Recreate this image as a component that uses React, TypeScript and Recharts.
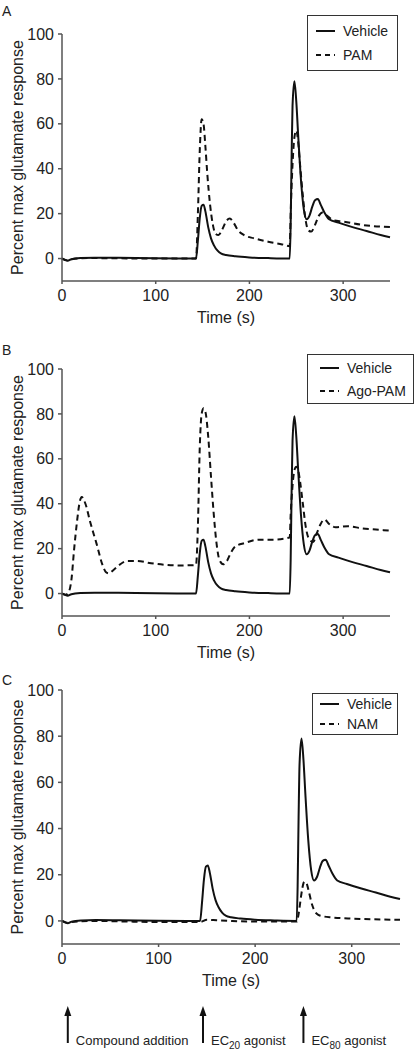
import {
  LineChart, Line, XAxis, YAxis, Legend, ReferenceDot
} from 'recharts';

const FONT = '"Liberation Sans", Arial, Helvetica, sans-serif';
const INK = '#111';
const AXIS = '#555';

// traces: time (s) -> percent max glutamate response
const vehicleTime = [0, 3, 6, 10, 20, 35, 60, 100, 130, 143, 145, 147, 149, 151, 153, 156, 159, 162, 166, 170, 175, 185, 200, 220, 243, 244, 245, 246, 248, 250, 252, 255, 258, 261, 264, 267, 270, 273, 276, 280, 285, 295, 310, 325, 340, 350];
const vehicleValue = [0, -0.5, -1, -0.3, 0.2, 0.4, 0.3, 0.1, 0, 0, 8, 18, 23.5, 24, 21, 14, 9, 6, 3.5, 2.2, 1.6, 1, 0.5, 0.2, 0, 15, 45, 68, 79, 70, 55, 35, 22, 17.5, 19, 23, 26, 26.5, 24, 20.5, 17.5, 16, 14, 12.3, 10.5, 9.5];

const pamTime = [0, 5, 10, 30, 60, 100, 143, 145, 147, 149, 151, 153, 155, 158, 161, 164, 167, 171, 175, 179, 183, 188, 194, 205, 220, 235, 243, 244, 246, 248, 250, 252, 254, 257, 260, 263, 266, 270, 274, 278, 283, 290, 300, 320, 350];
const pamValue = [0, -0.8, -0.3, 0.2, 0.1, 0, 0, 20, 48, 62, 60, 50, 38, 24, 15, 11, 10.5, 13, 16.5, 17.8, 16, 12.5, 10.5, 9, 7.5, 6.3, 5.5, 20, 42, 54, 57, 52, 42, 28, 17, 12.5, 12, 15, 19, 20.5, 19, 17, 16.5, 15, 14];

const agoTime = [0, 4, 7, 10, 13, 16, 19, 21, 25, 30, 37, 43, 47, 50, 55, 62, 70, 80, 95, 110, 125, 143, 145, 147, 149, 151, 153, 156, 159, 162, 165, 168, 172, 176, 180, 185, 195, 210, 225, 243, 244, 246, 248, 250, 252, 254, 257, 260, 264, 268, 272, 276, 280, 285, 292, 305, 320, 335, 350];
const agoValue = [0, -0.5, 0.5, 6, 20, 32, 41, 43, 40, 32, 22, 13, 9.5, 9, 10.5, 13, 14.5, 14.5, 13.5, 12.8, 12.5, 12.7, 30, 65, 80, 82.5, 81, 70, 52, 35, 22, 15, 13, 14.5, 18, 21, 22.5, 24, 24, 25, 35, 48, 55, 56.5, 55, 50, 40, 30, 24, 23, 27, 31, 33, 31, 29.5, 30, 29, 28.5, 28];

const namTime = [0, 5, 10, 30, 60, 100, 143, 150, 160, 175, 200, 243, 245, 247, 249, 251, 253, 256, 259, 262, 266, 270, 280, 300, 350];
const namValue = [0, -0.8, -0.5, 0, -0.2, -0.5, -0.5, 0.5, 0.3, 0, -0.3, -0.3, 3, 9, 14.5, 17, 16.5, 12, 7, 4, 2.5, 2, 1.5, 1, 0.5];

const xTicks = [0, 100, 200, 300];
const yTicks = [0, 20, 40, 60, 80, 100];

const arrowTimes = [6, 146, 250];
const arrowLabels = ['Compound addition', 'EC20 agonist', 'EC80 agonist'];

const toPoints = (t: number[], v: number[]) => t.map((x, i) => ({ t: x, v: v[i] }));

interface Series {
  name: string;
  time: number[];
  value: number[];
  dashed?: boolean;
}

interface LegendBox {
  left: number;
  top: number;
  width: number;
  height: number;
  rowGap: number;
  padLeft: number;
}

interface PanelProps {
  letter: string;
  letterTop: number;
  top: number;
  height: number;
  margin: { top: number; right: number; bottom: number; left: number };
  series: Series[];
  legend: LegendBox;
  arrows?: boolean;
}

const renderLegend = (series: Series[], box: LegendBox) => () => (
  <div
    style={{
      width: box.width, height: box.height, boxSizing: 'border-box',
      border: '1px solid #333', background: '#fff', paddingLeft: box.padLeft,
      display: 'flex', flexDirection: 'column', justifyContent: 'center', gap: box.rowGap,
      fontFamily: FONT,
    }}
  >
    {series.map((s) => (
      <div key={s.name} style={{ display: 'flex', alignItems: 'center', gap: 8, fontSize: 14, lineHeight: '16px', color: '#222' }}>
        <svg width={19} height={4} style={{ display: 'block' }}>
          <line x1={0} y1={2} x2={19} y2={2} stroke={INK} strokeWidth={2} strokeDasharray={s.dashed ? '5 4' : undefined} />
        </svg>
        <span>{s.name}</span>
      </div>
    ))}
  </div>
);

const xLabel = (props: any) => {
  const { viewBox } = props;
  return (
    <text x={viewBox.x + viewBox.width / 2} y={viewBox.y + 42} textAnchor="middle" fontSize={16} fill="#222" fontFamily={FONT}>
      Time (s)
    </text>
  );
};

const yLabel = (props: any) => {
  const { viewBox } = props;
  const cy = viewBox.y + viewBox.height / 2;
  return (
    <text x={17} y={cy} transform={`rotate(-90 17 ${cy})`} textAnchor="middle" dominantBaseline="central" fontSize={16} fill="#222" fontFamily={FONT}>
      Percent max glutamate response
    </text>
  );
};

const ArrowMark = ({ cx, cy, label }: { cx: number; cy: number; label: string }) => {
  const m = label.match(/^(EC)(\d+)(.*)$/);
  const top = cy + 62;
  const bottom = cy + 99;
  return (
    <g>
      <line x1={cx} y1={top + 8} x2={cx} y2={bottom} stroke={INK} strokeWidth={2} />
      <path d={`M${cx - 3.5},${top + 10} L${cx},${top} L${cx + 3.5},${top + 10} Z`} fill={INK} />
      <text x={cx + 8} y={bottom + 2} fontSize={13} fill="#222" fontFamily={FONT}>
        {m ? (
          <>
            {m[1]}
            <tspan fontSize={10} dy={4}>{m[2]}</tspan>
            <tspan dy={-4}>{m[3]}</tspan>
          </>
        ) : label}
      </text>
    </g>
  );
};

function Panel({ letter, letterTop, top, height, margin, series, legend, arrows }: PanelProps) {
  return (
    <div style={{ position: 'absolute', left: 0, top, width: 415, height }}>
      <div style={{ position: 'absolute', left: 2, top: letterTop, fontSize: 14, color: '#222', fontFamily: FONT, lineHeight: '14px' }}>
        {letter}
      </div>
      <LineChart width={415} height={height} margin={margin}>
        <XAxis
          type="number"
          dataKey="t"
          domain={[0, 350]}
          ticks={xTicks}
          interval={0}
          allowDuplicatedCategory={false}
          stroke={AXIS}
          strokeWidth={1.5}
          tickSize={3}
          tickMargin={6}
          height={40}
          tick={{ fontSize: 16, fill: '#222', fontFamily: FONT }}
          label={xLabel}
        />
        <YAxis
          type="number"
          domain={[-10, 100]}
          ticks={yTicks}
          interval={0}
          width={62}
          stroke={AXIS}
          strokeWidth={1.5}
          tickSize={4}
          tickMargin={4}
          tick={{ fontSize: 16, fill: '#222', fontFamily: FONT }}
          label={yLabel}
        />
        <Legend
          layout="horizontal"
          verticalAlign="middle"
          align="center"
          wrapperStyle={{ left: legend.left, top: legend.top, width: legend.width, height: legend.height }}
          content={renderLegend(series, legend)}
        />
        {series.map((s) => (
          <Line
            key={s.name}
            data={toPoints(s.time, s.value)}
            dataKey="v"
            name={s.name}
            type="monotone"
            stroke={INK}
            strokeWidth={2}
            strokeDasharray={s.dashed ? '6 4' : undefined}
            dot={false}
            activeDot={false}
            isAnimationActive={false}
          />
        ))}
        {arrows && arrowTimes.map((t, i) => (
          <ReferenceDot
            key={t}
            x={t}
            y={-10}
            ifOverflow="visible"
            shape={(p: any) => <ArrowMark cx={p.cx} cy={p.cy} label={arrowLabels[i]} />}
          />
        ))}
      </LineChart>
    </div>
  );
}

const vehicle: Series = { name: 'Vehicle', time: vehicleTime, value: vehicleValue };

export default function App() {
  return (
    <div style={{ position: 'absolute', left: 0, top: 0, width: 415, height: 1050, background: '#fff', fontFamily: FONT }}>
      <Panel
        letter="A"
        letterTop={4}
        top={0}
        height={330}
        margin={{ top: 34, right: 25, bottom: 9, left: 0 }}
        series={[vehicle, { name: 'PAM', time: pamTime, value: pamValue, dashed: true }]}
        legend={{ left: 307, top: 15, width: 91, height: 56, rowGap: 8, padLeft: 8 }}
      />
      <Panel
        letter="B"
        letterTop={3}
        top={340}
        height={330}
        margin={{ top: 29, right: 25, bottom: 14, left: 0 }}
        series={[vehicle, { name: 'Ago-PAM', time: agoTime, value: agoValue, dashed: true }]}
        legend={{ left: 307, top: 14, width: 107, height: 50, rowGap: 7, padLeft: 12 }}
      />
      <Panel
        letter="C"
        letterTop={3}
        top={670}
        height={380}
        margin={{ top: 20, right: 15, bottom: 66, left: 0 }}
        series={[vehicle, { name: 'NAM', time: namTime, value: namValue, dashed: true }]}
        legend={{ left: 312, top: 23, width: 86, height: 42, rowGap: 4, padLeft: 7 }}
        arrows
      />
    </div>
  );
}
